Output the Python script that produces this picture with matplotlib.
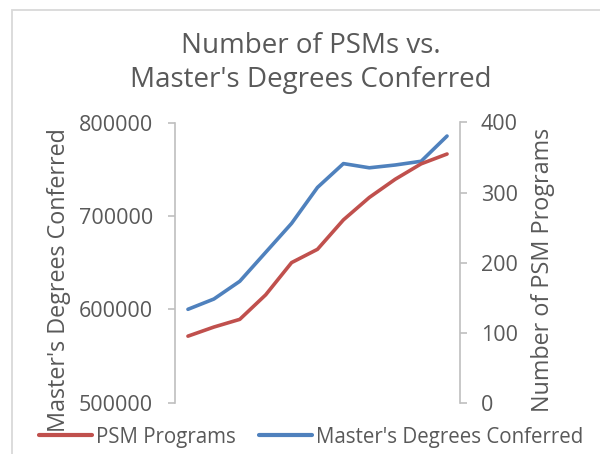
import matplotlib
matplotlib.use("Agg")
import matplotlib.pyplot as plt
from matplotlib.patches import Rectangle

plt.rcParams['font.family'] = ['Open Sans', 'DejaVu Sans']

years = ["2000", "2001", "2002", "2003", "2004", "2005", "2006", "2007", "2008", "2009", "2010"]
masters_degrees = [600000, 611000, 630000, 661000, 692000, 730500, 756000, 751500, 754500, 758500, 785500]
psm_programs = [95, 108, 119, 154, 200, 219, 261, 293, 319, 341, 355]

title_text = "Number of PSMs vs.\nMaster's Degrees Conferred"
left_label = "Master's Degrees Conferred"
right_label = "Number of PSM Programs"
left_ticks = [500000, 600000, 700000, 800000]
right_ticks = [0, 100, 200, 300, 400]

RED = "#C0504D"
BLUE = "#4F81BD"
GRID = "#BFBFBF"
TXT = "#595959"

fig = plt.figure(figsize=(6.0, 4.54), dpi=100)
W, H = 600, 454
ax = fig.add_axes([175 / W, 1 - 402.7 / H, (460 - 175) / W, (402.7 - 122.5) / H])
ax2 = ax.twinx()

x = list(range(len(years)))
l_blue, = ax.plot(x, masters_degrees, color=BLUE, lw=2.6, solid_capstyle='round',
                  label="Master's Degrees Conferred")
l_red, = ax2.plot(x, psm_programs, color=RED, lw=2.6, solid_capstyle='round',
                  label="PSM Programs")

ax.set_xlim(-0.5, len(years) - 0.5)
ax.set_ylim(500000, 800000)
ax2.set_ylim(0, 400)
ax.set_yticks(left_ticks)
ax.set_yticklabels([str(v) for v in left_ticks])
ax2.set_yticks(right_ticks)
ax2.set_yticklabels([str(v) for v in right_ticks])
ax.set_xticks([])

for a in (ax, ax2):
    for s in a.spines.values():
        s.set_visible(False)
ax.spines['left'].set_visible(True)
ax.spines['left'].set_color(GRID)
ax.spines['left'].set_linewidth(1.2)
ax2.spines['right'].set_visible(True)
ax2.spines['right'].set_color(GRID)
ax2.spines['right'].set_linewidth(1.2)
ax.tick_params(axis='y', direction='out', length=5, width=1.2, color=GRID,
               labelcolor=TXT, labelsize=15.5, pad=11)
ax2.tick_params(axis='y', direction='out', length=5, width=1.2, color=GRID,
                labelcolor=TXT, labelsize=15.5, pad=10)
ax2.set_xticks([])

fig.text(311 / W, 1 - 63 / H, title_text, ha='center', va='center', fontsize=20,
         color=TXT, linespacing=1.3)
fig.text(59 / W, 1 - 280 / H, left_label, rotation=90, ha='center', va='center',
         fontsize=16.8, color=TXT)
fig.text(543 / W, 1 - 270 / H, right_label, rotation=90, ha='center', va='center',
         fontsize=16.8, color=TXT)

leg = fig.legend(handles=[l_red, l_blue], loc='center', ncol=2,
                 bbox_to_anchor=(311 / W, 1 - 437 / H), frameon=False,
                 fontsize=14.8, handlelength=2.6, handletextpad=0.2,
                 columnspacing=1.1, borderaxespad=0, borderpad=0)
for t in leg.get_texts():
    t.set_color(TXT)
for h in leg.legend_handles:
    h.set_linewidth(3)

fig.patches.append(Rectangle((11.5 / W, -0.2), 1.5, 1.2 - 10.5 / H + 0.0,
                             transform=fig.transFigure, fill=False,
                             edgecolor="#D9D9D9", lw=1.3, zorder=-1))

fig.savefig("out.png", dpi=100)
